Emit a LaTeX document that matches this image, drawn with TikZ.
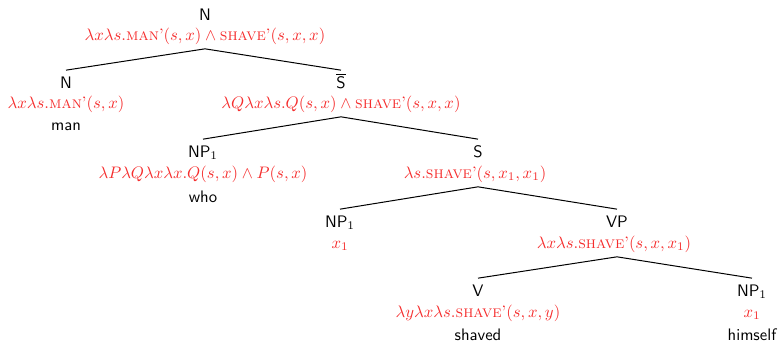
\documentclass[tikz,border=0pt]{standalone}
\usepackage{amsmath}
\definecolor{semred}{RGB}{245,45,45}
\begin{document}
\begin{tikzpicture}[x=0.6pt,y=-0.6pt,
  cat/.style={font=\sffamily,inner xsep=0pt,inner ysep=3.6pt,text height=7pt,text depth=2pt},
  sem/.style={text=semred,inner xsep=0pt,inner ysep=2.5pt,text height=7.5pt,text depth=2.5pt},
  word/.style={font=\sffamily,inner sep=0pt},
  branch/.style={draw=black,line width=0.6pt}]
\useasboundingbox (0,0) rectangle (779,343);
% root
\node[cat] (root) at (205,16) {N};
\node[sem] (roots) at (205,36) {$\lambda x\lambda s.\mbox{\textsc{man}'}(s,x)\wedge\mbox{\textsc{shave}'}(s,x,x)$};
% left N
\node[cat] (nl) at (66,84) {N};
\node[sem] (nls) at (66,104) {$\lambda x\lambda s.\mbox{\textsc{man}'}(s,x)$};
\node[word] (man) at (66,127) {man};
% Sbar
\node[cat] (sbar) at (341,84) {$\overline{\mbox{\sffamily S}}$};
\node[sem] (sbars) at (341,104) {$\lambda Q\lambda x\lambda s.Q(s,x)\wedge\mbox{\textsc{shave}'}(s,x,x)$};
% NP1 who
\node[cat] (npw) at (203,153) {NP$_1$};
\node[sem] (npws) at (203,174) {$\lambda P\lambda Q\lambda x\lambda x.Q(s,x)\wedge P(s,x)$};
\node[word] (who) at (203,197) {who};
% S
\node[cat] (s) at (478,153) {S};
\node[sem] (ss) at (475,174) {$\lambda s.\mbox{\textsc{shave}'}(s,x_1,x_1)$};
% NP1 x1
\node[cat] (npx) at (340,223) {NP$_1$};
\node[sem] (npxs) at (340,244) {$x_1$};
% VP
\node[cat] (vp) at (617,223) {VP};
\node[sem] (vps) at (614,244) {$\lambda x\lambda s.\mbox{\textsc{shave}'}(s,x,x_1)$};
% V
\node[cat] (v) at (478,292) {V};
\node[sem] (vs) at (478,313) {$\lambda y\lambda x\lambda s.\mbox{\textsc{shave}'}(s,x,y)$};
\node[word] (shaved) at (478,335) {shaved};
% NP1 himself
\node[cat] (nph) at (752,292) {NP$_1$};
\node[sem] (nphs) at (752,313) {$x_1$};
\node[word] (himself) at (752,335) {himself};
% branches
\draw[branch] (roots.south -| root) -- (nl.north);
\draw[branch] (roots.south -| root) -- (sbar.north);
\draw[branch] (sbars.south -| sbar) -- (npw.north);
\draw[branch] (sbars.south -| sbar) -- (s.north);
\draw[branch] (ss.south -| s) -- (npx.north);
\draw[branch] (ss.south -| s) -- (vp.north);
\draw[branch] (vps.south -| vp) -- (v.north);
\draw[branch] (vps.south -| vp) -- (nph.north);
\end{tikzpicture}
\end{document}
